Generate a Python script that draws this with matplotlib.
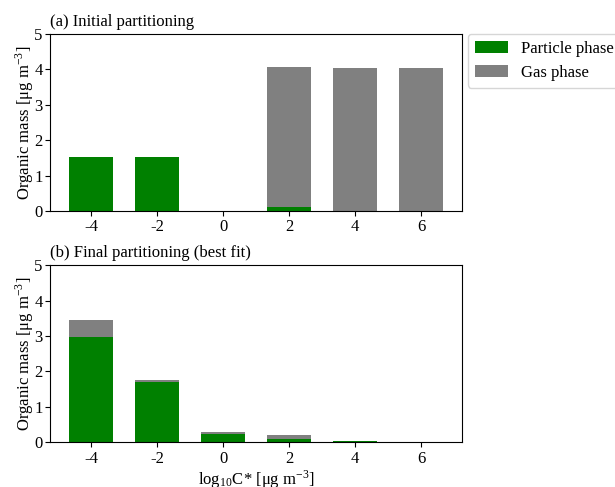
import matplotlib

matplotlib.use("Agg")
import matplotlib.pyplot as plt  # noqa: E402

plt.rcParams["font.family"] = ["Liberation Serif", "DejaVu Serif"]
plt.rcParams["font.size"] = 12
plt.rcParams["mathtext.fontset"] = "stix"
plt.rcParams["xtick.major.pad"] = 2.5
plt.rcParams["ytick.major.pad"] = 2.0

log_cstar = [-4, -2, 0, 2, 4, 6]
tick_labels = ["-4", "-2", "0", "2", "4", "6"]

# (a) initial partitioning
init_particle = [1.52, 1.52, 0.0, 0.12, 0.0, 0.0]
init_gas = [0.01, 0.01, 0.0, 3.95, 4.04, 4.04]

# (b) final partitioning (best fit)
final_particle = [2.98, 1.71, 0.22, 0.10, 0.02, 0.005]
final_gas = [0.48, 0.06, 0.08, 0.09, 0.01, 0.008]

GREEN = "green"
GREY = "grey"

fig = plt.figure(figsize=(6.15, 4.87), dpi=100)
ax1 = fig.add_axes([0.082, 0.567, 0.669, 0.363])
ax2 = fig.add_axes([0.082, 0.092, 0.669, 0.363])

ylab = r"Organic mass [$\mathregular{\mu}$g m$^{\mathregular{-3}}$]"

for ax, part, gas, title in [
    (ax1, init_particle, init_gas, "(a) Initial partitioning"),
    (ax2, final_particle, final_gas, "(b) Final partitioning (best fit)"),
]:
    ax.bar(log_cstar, part, width=1.33, color=GREEN, label="Particle phase")
    ax.bar(log_cstar, gas, width=1.33, bottom=part, color=GREY, label="Gas phase")
    ax.set_ylim(0, 5)
    ax.set_xticks(log_cstar)
    ax.set_xticklabels(tick_labels)
    ax.set_ylabel(ylab, labelpad=-1)
    ax.set_title(title, loc="left", fontsize=12)

ax2.set_xlabel(r"log$_{\mathregular{10}}$C* [$\mathregular{\mu}$g m$^{\mathregular{-3}}$]",
               labelpad=1)
ax1.legend(loc="upper left", bbox_to_anchor=(1.015, 1.0), borderaxespad=0)

fig.savefig("out.png", dpi=100)
